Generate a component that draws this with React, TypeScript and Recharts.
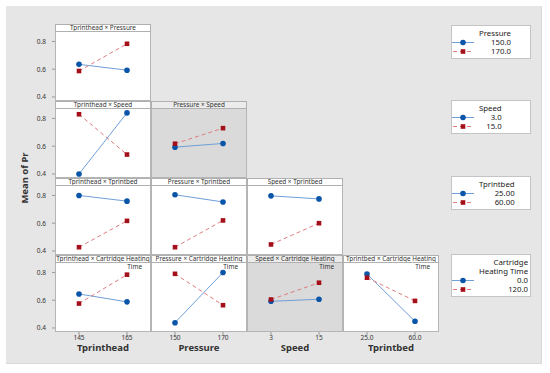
import React from "react";
import { LineChart, Line, XAxis, YAxis } from "recharts";

// factors on the x axis (columns) and trace factors (rows)
const xFactors = ["Tprinthead", "Pressure", "Speed", "Tprintbed"];
const xLevels = [[145, 165], [150, 170], [3, 15], [25, 60]];
const xTickLabels = [["145", "165"], ["150", "170"], ["3", "15"], ["25.0", "60.0"]];
const traceFactors = ["Pressure", "Speed", "Tprintbed", "Cartridge Heating Time"];
const traceLevels = [["150.0", "170.0"], ["3.0", "15.0"], ["25.00", "60.00"], ["0.0", "120.0"]];
const yTicks = [0.4, 0.6, 0.8];
const yDomain = [0.371, 0.868];

// mean of Pr, per panel: [at low x level, at high x level]
const pressureLow = [[0.635, 0.593]];
const pressureHigh = [[0.587, 0.783]];
const speedLow = [[0.4, 0.84], [0.593, 0.62]];
const speedHigh = [[0.83, 0.54], [0.618, 0.73]];
const tprintbedLow = [[0.8, 0.759], [0.805, 0.753], [0.797, 0.775]];
const tprintbedHigh = [[0.427, 0.617], [0.427, 0.62], [0.447, 0.6]];
const heatLow = [[0.645, 0.588], [0.438, 0.8], [0.592, 0.607], [0.788, 0.448]];
const heatHigh = [[0.576, 0.784], [0.79, 0.564], [0.605, 0.726], [0.762, 0.595]];

const lowMeans = [pressureLow, speedLow, tprintbedLow, heatLow];
const highMeans = [pressureHigh, speedHigh, tprintbedHigh, heatHigh];
const shaded = ["1-1", "3-2"];

const FONT = "'Noto Sans', 'Open Sans', sans-serif";
const BLUE = "#0b55a8";
const BLUE_LINE = "#6f9fd9";
const RED = "#a3101a";
const RED_LINE = "#de7c7f";

const COL0 = 55;
const COLW = 96;
const ROW0 = 24;
const ROWH = 77;
const HEAD = 8;
const PLOTH = 69;
const YAXW = 30;
const XAXH = 14;

const Square = (p: any) =>
  p.cx == null ? null : (
    <rect key={p.key} x={p.cx - 2.3} y={p.cy - 2.3} width={4.6} height={4.6} fill={RED} />
  );

function Panel({ r, c }: { r: number; c: number }) {
  const [lo, hi] = xLevels[c];
  const d = hi - lo;
  const data = [
    { x: lo, low: lowMeans[r][c][0], high: highMeans[r][c][0] },
    { x: hi, low: lowMeans[r][c][1], high: highMeans[r][c][1] },
  ];
  const left = COL0 + c * COLW;
  const top = ROW0 + r * ROWH;
  const isShaded = shaded.includes(`${r}-${c}`);
  const showY = c === 0;
  const showX = r === 3;
  const trace = traceFactors[r];
  const wrap = trace.includes("Time");
  const title = `${xFactors[c]} × ${wrap ? trace.replace(" Time", "") : trace}`;
  return (
    <>
      <div
        style={{
          position: "absolute",
          left,
          top,
          width: COLW,
          height: HEAD + PLOTH,
          boxSizing: "border-box",
          border: "1px solid #b5b5b5",
          background: isShaded ? "#dadada" : "#ffffff",
        }}
      />
      <div
        style={{
          position: "absolute",
          left,
          top,
          width: COLW,
          height: HEAD,
          boxSizing: "border-box",
          border: "1px solid #b0b0b0",
          background: isShaded ? "#ececec" : "#ffffff",
          fontSize: 6.4,
          lineHeight: "6px",
          color: "#333",
          textAlign: "center",
          whiteSpace: "nowrap",
          overflow: "hidden",
        }}
      >
        {title}
      </div>
      {wrap && (
        <div
          style={{
            position: "absolute",
            left,
            top: top + HEAD,
            width: COLW - 9,
            textAlign: "right",
            fontSize: 6.4,
            lineHeight: "8px",
            color: "#333",
          }}
        >
          Time
        </div>
      )}
      <div style={{ position: "absolute", left: left - (showY ? YAXW : 0), top: top + HEAD }}>
        <LineChart
          width={COLW + (showY ? YAXW : 0)}
          height={PLOTH + (showX ? XAXH : 0)}
          data={data}
          margin={{ top: 0, right: 0, bottom: 0, left: 0 }}
        >
          <XAxis
            dataKey="x"
            type="number"
            domain={[lo - d / 2, hi + d / 2]}
            ticks={[lo, hi]}
            tickFormatter={(v) => xTickLabels[c][xLevels[c].indexOf(v)]}
            hide={!showX}
            height={XAXH}
            axisLine={false}
            tickSize={3}
            tickMargin={0}
            tickLine={{ stroke: "#999" }}
            tick={{ fill: "#333", fontSize: 6.5, fontFamily: FONT }}
          />
          <YAxis
            domain={yDomain}
            ticks={yTicks}
            hide={!showY}
            width={YAXW}
            axisLine={false}
            tickSize={3}
            tickMargin={6}
            tickLine={{ stroke: "#999" }}
            tickFormatter={(v) => Number(v).toFixed(1)}
            tick={{ fill: "#333", fontSize: 6.5, fontFamily: FONT }}
            allowDataOverflow
          />
          <Line
            dataKey="low"
            stroke={BLUE_LINE}
            strokeWidth={1}
            dot={{ r: 2.8, fill: BLUE, stroke: BLUE, strokeWidth: 0 }}
            isAnimationActive={false}
          />
          <Line
            dataKey="high"
            stroke={RED_LINE}
            strokeWidth={1}
            strokeDasharray="4 3"
            dot={Square}
            isAnimationActive={false}
          />
        </LineChart>
      </div>
    </>
  );
}

function Sample({ kind }: { kind: "low" | "high" }) {
  return (
    <svg width={22} height={9} style={{ display: "block" }}>
      {kind === "low" ? (
        <>
          <line x1={0} x2={22} y1={4.5} y2={4.5} stroke={BLUE_LINE} strokeWidth={1} />
          <circle cx={11} cy={4.5} r={2.8} fill={BLUE} />
        </>
      ) : (
        <>
          <line x1={0} x2={22} y1={4.5} y2={4.5} stroke={RED_LINE} strokeWidth={1} strokeDasharray="4 3" strokeDashoffset={-1} />
          <rect x={8.7} y={2.2} width={4.6} height={4.6} fill={RED} />
        </>
      )}
    </svg>
  );
}

function LegendBox({ top, titleLines, levels }: { top: number; titleLines: string[]; levels: string[] }) {
  const pad = 3;
  const h = (titleLines.length + 2) * 9 + pad + 4;
  return (
    <div
      style={{
        position: "absolute",
        left: 451,
        top,
        width: 80,
        height: h,
        boxSizing: "border-box",
        border: "1px solid #c4c4c4",
        background: "#fff",
        fontSize: 7.8,
        lineHeight: "9px",
        color: "#222",
      }}
    >
      <div style={{ position: "absolute", left: 27, top: pad, display: "inline-block", textAlign: "right" }}>
        {titleLines.map((t) => (
          <div key={t} style={{ whiteSpace: "nowrap" }}>{t}</div>
        ))}
        {levels.map((t) => (
          <div key={t}>{t}</div>
        ))}
      </div>
      <div style={{ position: "absolute", left: 0, top: pad + titleLines.length * 9 }}>
        <Sample kind="low" />
        <Sample kind="high" />
      </div>
    </div>
  );
}

export default function App() {
  const panels: React.ReactNode[] = [];
  for (let r = 0; r < 4; r++) {
    for (let c = 0; c <= r; c++) panels.push(<Panel key={`${r}-${c}`} r={r} c={c} />);
  }
  const legendTops = [25, 100, 176, 254];
  return (
    <div
      style={{
        position: "absolute",
        left: 0,
        top: 0,
        width: 550,
        height: 373,
        background: "#fff",
        fontFamily: FONT,
        overflow: "hidden",
      }}
    >
      <div
        style={{
          position: "absolute",
          left: 6,
          top: 6,
          width: 536,
          height: 358,
          background: "#e6e6e6",
          boxSizing: "border-box",
          borderRight: "1px solid #dadada",
          borderBottom: "1px solid #dadada",
        }}
      />
      {panels}
      <div
        style={{
          position: "absolute",
          left: 25 - 40,
          top: 178 - 6,
          width: 80,
          height: 12,
          textAlign: "center",
          transform: "rotate(-90deg)",
          fontSize: 9.5,
          fontWeight: 700,
          lineHeight: "12px",
          color: "#333",
        }}
      >
        Mean of Pr
      </div>
      {xFactors.map((f, c) => (
        <div
          key={f}
          style={{
            position: "absolute",
            left: COL0 + c * COLW,
            top: 343,
            width: COLW,
            textAlign: "center",
            fontSize: 9.5,
            fontWeight: 700,
            lineHeight: "10px",
            color: "#333",
          }}
        >
          {f}
        </div>
      ))}
      {traceFactors.map((f, r) => (
        <LegendBox
          key={f}
          top={legendTops[r]}
          titleLines={f.includes("Time") ? ["Cartridge", "Heating Time"] : [f]}
          levels={traceLevels[r]}
        />
      ))}
    </div>
  );
}
